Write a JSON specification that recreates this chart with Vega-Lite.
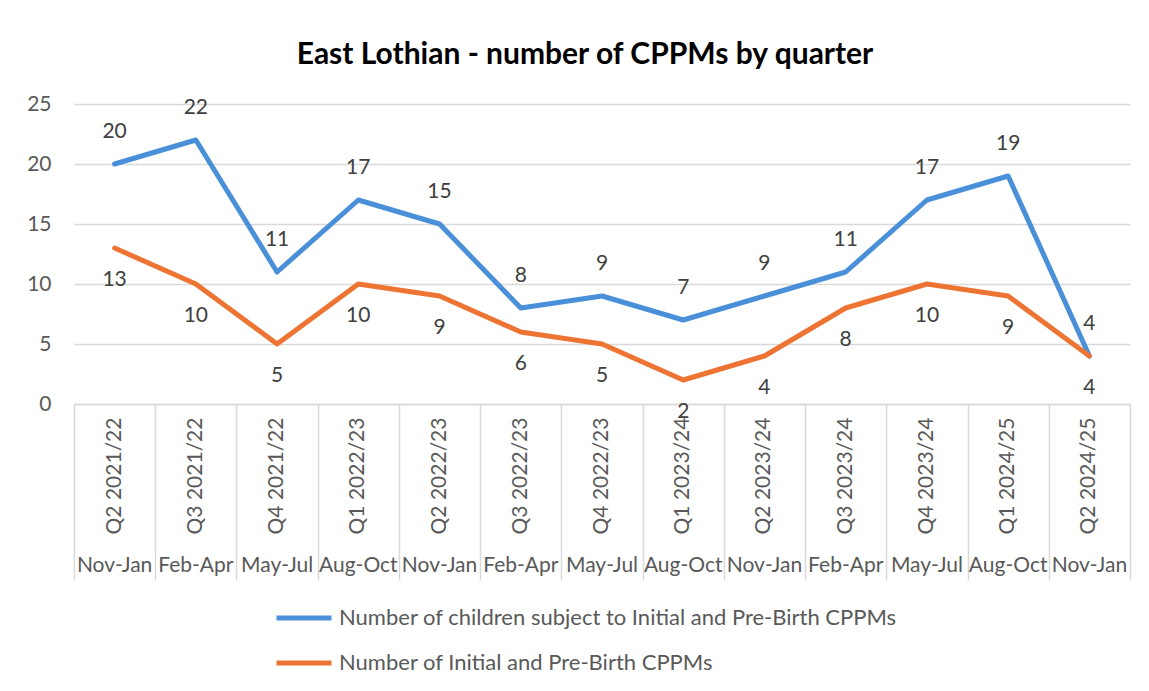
{
  "$schema": "https://vega.github.io/schema/vega-lite/v6.json",
  "autosize": {"type": "none"},
  "width": 1056,
  "height": 300,
  "padding": {"left": 74, "top": 104, "right": 19, "bottom": 287},
  "background": "white",
  "title": {
    "text": "East Lothian - number of CPPMs by quarter",
    "font": "Lato",
    "fontSize": 30,
    "fontWeight": "bold",
    "color": "#000000",
    "anchor": "middle",
    "frame": "group",
    "dx": -17,
    "offset": 23
  },
  "config": {
    "view": {"stroke": null},
    "font": "Lato"
  },
  "data": {
    "values": [
      {"quarter": "Q2 2021/22", "series": "Number of children subject to Initial and Pre-Birth CPPMs", "value": 20},
      {"quarter": "Q3 2021/22", "series": "Number of children subject to Initial and Pre-Birth CPPMs", "value": 22},
      {"quarter": "Q4 2021/22", "series": "Number of children subject to Initial and Pre-Birth CPPMs", "value": 11},
      {"quarter": "Q1 2022/23", "series": "Number of children subject to Initial and Pre-Birth CPPMs", "value": 17},
      {"quarter": "Q2 2022/23", "series": "Number of children subject to Initial and Pre-Birth CPPMs", "value": 15},
      {"quarter": "Q3 2022/23", "series": "Number of children subject to Initial and Pre-Birth CPPMs", "value": 8},
      {"quarter": "Q4 2022/23", "series": "Number of children subject to Initial and Pre-Birth CPPMs", "value": 9},
      {"quarter": "Q1 2023/24", "series": "Number of children subject to Initial and Pre-Birth CPPMs", "value": 7},
      {"quarter": "Q2 2023/24", "series": "Number of children subject to Initial and Pre-Birth CPPMs", "value": 9},
      {"quarter": "Q3 2023/24", "series": "Number of children subject to Initial and Pre-Birth CPPMs", "value": 11},
      {"quarter": "Q4 2023/24", "series": "Number of children subject to Initial and Pre-Birth CPPMs", "value": 17},
      {"quarter": "Q1 2024/25", "series": "Number of children subject to Initial and Pre-Birth CPPMs", "value": 19},
      {"quarter": "Q2 2024/25", "series": "Number of children subject to Initial and Pre-Birth CPPMs", "value": 4},
      {"quarter": "Q2 2021/22", "series": "Number of Initial and Pre-Birth CPPMs", "value": 13},
      {"quarter": "Q3 2021/22", "series": "Number of Initial and Pre-Birth CPPMs", "value": 10},
      {"quarter": "Q4 2021/22", "series": "Number of Initial and Pre-Birth CPPMs", "value": 5},
      {"quarter": "Q1 2022/23", "series": "Number of Initial and Pre-Birth CPPMs", "value": 10},
      {"quarter": "Q2 2022/23", "series": "Number of Initial and Pre-Birth CPPMs", "value": 9},
      {"quarter": "Q3 2022/23", "series": "Number of Initial and Pre-Birth CPPMs", "value": 6},
      {"quarter": "Q4 2022/23", "series": "Number of Initial and Pre-Birth CPPMs", "value": 5},
      {"quarter": "Q1 2023/24", "series": "Number of Initial and Pre-Birth CPPMs", "value": 2},
      {"quarter": "Q2 2023/24", "series": "Number of Initial and Pre-Birth CPPMs", "value": 4},
      {"quarter": "Q3 2023/24", "series": "Number of Initial and Pre-Birth CPPMs", "value": 8},
      {"quarter": "Q4 2023/24", "series": "Number of Initial and Pre-Birth CPPMs", "value": 10},
      {"quarter": "Q1 2024/25", "series": "Number of Initial and Pre-Birth CPPMs", "value": 9},
      {"quarter": "Q2 2024/25", "series": "Number of Initial and Pre-Birth CPPMs", "value": 4}
    ]
  },
  "resolve": {"axis": {"x": "independent"}},
  "layer": [
    {
      "mark": {"type": "line", "strokeWidth": 5, "strokeCap": "round", "strokeJoin": "round"},
      "encoding": {
        "x": {
          "field": "quarter", "type": "nominal", "sort": null,
          "scale": {"type": "band", "paddingInner": 0, "paddingOuter": 0},
          "axis": {
            "orient": "bottom", "title": null, "labels": false,
            "ticks": true, "tickBand": "extent", "tickSize": 176, "tickColor": "#d9d9d9", "tickWidth": 1.5,
            "domain": true, "domainColor": "#d9d9d9", "domainWidth": 1.5, "grid": false
          }
        },
        "y": {
          "field": "value", "type": "quantitative",
          "scale": {"domain": [0, 25], "nice": false},
          "axis": {
            "title": null, "values": [0, 5, 10, 15, 20, 25], "domain": false, "ticks": false,
            "labelFontSize": 21, "labelColor": "#595959", "labelPadding": 23,
            "grid": true, "gridColor": "#d9d9d9", "gridWidth": 1.5
          }
        },
        "color": {
          "field": "series", "type": "nominal",
          "scale": {
            "domain": ["Number of children subject to Initial and Pre-Birth CPPMs", "Number of Initial and Pre-Birth CPPMs"],
            "range": ["#4a90d9", "#ed7433"]
          },
          "legend": {
            "title": null, "orient": "none", "direction": "vertical",
            "legendX": 200, "legendY": 484,
            "symbolType": "stroke", "symbolSize": 3025, "symbolStrokeWidth": 5,
            "labelFontSize": 22, "labelColor": "#595959", "labelLimit": 800,
            "rowPadding": 4, "labelOffset": 5
          }
        }
      }
    },
    {
      "transform": [{"filter": "datum.series === 'Number of children subject to Initial and Pre-Birth CPPMs'"}],
      "mark": {"type": "text", "dy": -32, "fontSize": 21, "color": "#404040"},
      "encoding": {
        "x": {
          "field": "quarter", "type": "nominal", "sort": null,
          "axis": {
            "orient": "bottom", "title": null, "ticks": false, "domain": false, "grid": false,
            "labelAngle": 270, "labelPadding": 13, "labelFontSize": 21, "labelColor": "#595959"
          }
        },
        "y": {"field": "value", "type": "quantitative"},
        "text": {"field": "value", "type": "quantitative"}
      }
    },
    {
      "transform": [{"filter": "datum.series === 'Number of Initial and Pre-Birth CPPMs'"}],
      "mark": {"type": "text", "dy": 32, "fontSize": 21, "color": "#404040"},
      "encoding": {
        "x": {
          "field": "quarter", "type": "nominal", "sort": null,
          "axis": {
            "orient": "bottom", "title": null, "ticks": false, "domain": false, "grid": false,
            "labelAngle": 0, "labelPadding": 150, "labelFontSize": 21, "labelColor": "#595959",
            "labelBaseline": "top",
            "labelExpr": "slice(datum.value, 0, 2) === 'Q1' ? 'Aug-Oct' : slice(datum.value, 0, 2) === 'Q2' ? 'Nov-Jan' : slice(datum.value, 0, 2) === 'Q3' ? 'Feb-Apr' : 'May-Jul'"
          }
        },
        "y": {"field": "value", "type": "quantitative"},
        "text": {"field": "value", "type": "quantitative"}
      }
    }
  ]
}
